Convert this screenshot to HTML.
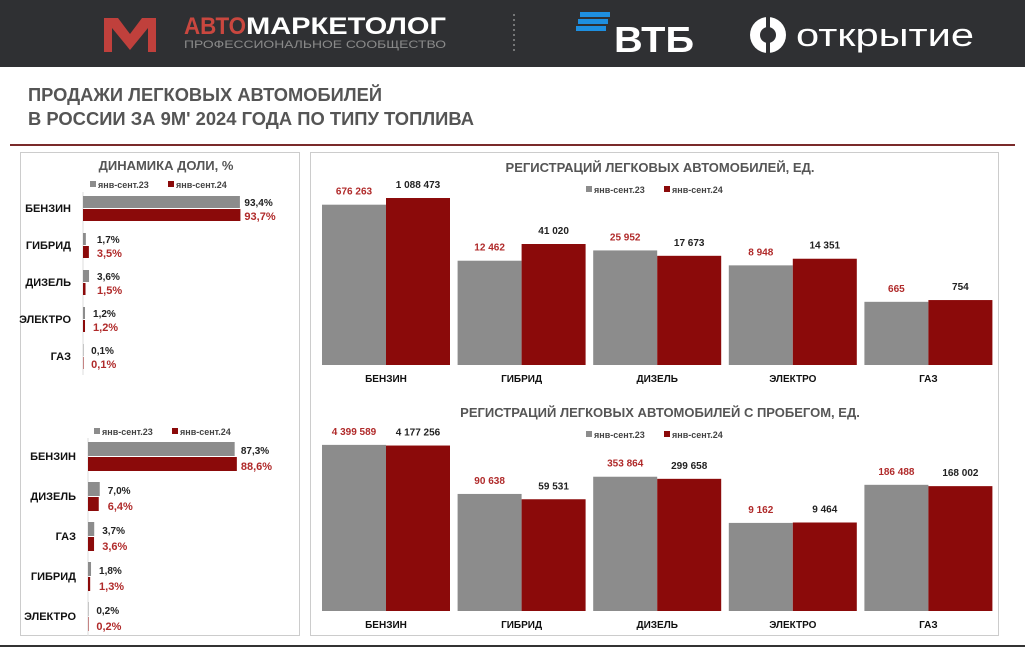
<!DOCTYPE html>
<html><head><meta charset="utf-8"><style>
html,body{margin:0;padding:0;background:#fff;}
svg{display:block;font-family:"Liberation Sans","DejaVu Sans",sans-serif;}
</style></head><body>
<svg id="s" width="1025" height="654" viewBox="0 0 1025 654" xmlns="http://www.w3.org/2000/svg">
<rect x="0" y="0" width="1025" height="67" fill="#2f3033"/>
<g>
<path d="M104 18 L118 18 L130 34 L142 18 L156 18 L156 52 L148 52 L148 28 L130 50 L112 28 L112 52 L104 52 Z" fill="#c0403c"/>
<text x="184" y="34" font-size="24" font-weight="bold" fill="#c9473f" textLength="62" lengthAdjust="spacingAndGlyphs">АВТО</text>
<text x="246" y="34" font-size="24" font-weight="bold" fill="#fff" textLength="200" lengthAdjust="spacingAndGlyphs">МАРКЕТОЛОГ</text>
<text x="184" y="48" font-size="11" fill="#8a8a8a" textLength="262" lengthAdjust="spacingAndGlyphs">ПРОФЕССИОНАЛЬНОЕ СООБЩЕСТВО</text>
</g>
<line x1="514" y1="14" x2="514" y2="52" stroke="#bbb" stroke-dasharray="2,3"/>
<g>
<rect x="580" y="12" width="30" height="5" fill="#1e8fe0"/><rect x="578" y="19" width="30" height="5" fill="#1e8fe0"/><rect x="576" y="26" width="30" height="5" fill="#1e8fe0"/>
<text x="614" y="52" font-size="36" font-weight="bold" fill="#fff" textLength="80" lengthAdjust="spacingAndGlyphs">ВТБ</text>
</g>
<g>
<circle cx="768" cy="35" r="18" fill="#fff"/><circle cx="768" cy="35" r="8" fill="#2f3033"/><rect x="766" y="17" width="4" height="36" fill="#2f3033"/>
<text x="796" y="46" font-size="32" fill="#fff" textLength="178" lengthAdjust="spacingAndGlyphs">открытие</text>
</g>
<text x="28" y="101" font-size="18" font-weight="bold" fill="#555" textLength="354" lengthAdjust="spacingAndGlyphs">ПРОДАЖИ ЛЕГКОВЫХ АВТОМОБИЛЕЙ</text>
<text x="28" y="125" font-size="18" font-weight="bold" fill="#555" textLength="446" lengthAdjust="spacingAndGlyphs">В РОССИИ ЗА 9М' 2024 ГОДА ПО ТИПУ ТОПЛИВА</text>
<line x1="10" y1="145" x2="1015" y2="145" stroke="#7a2a2a" stroke-width="2"/>
<rect x="20.5" y="152.5" width="279" height="483" fill="#fff" stroke="#ccc"/>
<rect x="310.5" y="152.5" width="688" height="483" fill="#fff" stroke="#ccc"/>
<line x1="0" y1="646" x2="1025" y2="646" stroke="#333" stroke-width="2"/>
<g id="g"></g>
</svg>
<script>
const NS="http://www.w3.org/2000/svg";
const G=document.getElementById('g');
const GRAY="#8c8c8c", RED="#8b0a0a", REDT="#b02a2a";
function el(tag,a,txt){const e=document.createElementNS(NS,tag);for(const k in a)e.setAttribute(k,a[k]);if(txt!==undefined)e.textContent=txt;G.appendChild(e);return e;}

// Share chart 1
const shareCats1=["БЕНЗИН","ГИБРИД","ДИЗЕЛЬ","ЭЛЕКТРО","ГАЗ"];
const share23a=[93.4,1.7,3.6,1.2,0.1];
const share24a=[93.7,3.5,1.5,1.2,0.1];
// Share chart 2
const shareCats2=["БЕНЗИН","ДИЗЕЛЬ","ГАЗ","ГИБРИД","ЭЛЕКТРО"];
const share23b=[87.3,7.0,3.7,1.8,0.2];
const share24b=[88.6,6.4,3.6,1.3,0.2];
// Registrations new
const regCats=["БЕНЗИН","ГИБРИД","ДИЗЕЛЬ","ЭЛЕКТРО","ГАЗ"];
const regNew23=[676263,12462,25952,8948,665];
const regNew24=[1088473,41020,17673,14351,754];
// Registrations used
const regUsed23=[4399589,90638,353864,9162,186488];
const regUsed24=[4177256,59531,299658,9464,168002];

function fmtPct(v){return v.toFixed(1).replace('.',',')+'%';}
function fmtNum(v){return String(v).replace(/\B(?=(\d{3})+(?!\d))/g,' ');}

function legend(cx,y,name){
  let t;
  t=el('rect',{x:cx-72,y:y-7,width:6,height:6,fill:GRAY});
  
  t=el('text',{x:cx-64,y:y,'font-size':9,'font-weight':'bold',fill:'#444'},'янв-сент.23');
  
  t=el('rect',{x:cx+6,y:y-7,width:6,height:6,fill:RED});
  
  t=el('text',{x:cx+14,y:y,'font-size':9,'font-weight':'bold',fill:'#444'},'янв-сент.24');
  
}

function shareChart(cats,a,b,x0,y0,step,bh,name){
  const sx=v=>v*1.68;
  let t=el('line',{x1:x0,y1:y0-4,x2:x0,y2:y0+step*cats.length-6,stroke:'#ddd'});
  
  cats.forEach((c,i)=>{
    const y=y0+i*step;
    t=el('text',{x:x0-12,y:y+bh+4,'font-size':11,'font-weight':'bold',fill:'#111','text-anchor':'end'},c);
    
    t=el('rect',{x:x0,y:y,width:Math.max(sx(a[i]),0.5),height:bh,fill:GRAY});
    
    t=el('rect',{x:x0,y:y+bh+1,width:Math.max(sx(b[i]),0.5),height:bh,fill:RED});
    
    const lx=x0+Math.max(sx(a[i]),sx(b[i]))+(sx(a[i])>20?4:8);
    t=el('text',{x:lx,y:y+bh-2,'font-size':10,'font-weight':'bold',fill:'#222'},fmtPct(a[i]));
    
    t=el('text',{x:lx,y:y+2*bh,'font-size':11,'font-weight':'bold',fill:REDT},fmtPct(b[i]));
    
  });
}

let tt=el('text',{x:166,y:170,'font-size':13,'font-weight':'bold',fill:'#555','text-anchor':'middle'},'ДИНАМИКА ДОЛИ, %');

legend(162,188,'share-new');
shareChart(shareCats1,share23a,share24a,83,196,37,12,'share-new');
legend(166,435,'share-used');
shareChart(shareCats2,share23b,share24b,88,442,40,14,'share-used');

function regChart(cats,a,b,base,k,c0,title,ty,name){
  const hy=v=>k*Math.log10(v)-c0;
  const x0=322,gw=135.6,bw=64;
  let t=el('text',{x:660,y:ty,'font-size':13,'font-weight':'bold',fill:'#555','text-anchor':'middle'},title);
  
  legend(658,ty+21,name);
  cats.forEach((c,i)=>{
    const gx=x0+i*gw;
    const h1=hy(a[i]),h2=hy(b[i]);
    t=el('rect',{x:gx,y:base-h1,width:bw,height:h1,fill:GRAY});
    
    t=el('rect',{x:gx+bw,y:base-h2,width:bw,height:h2,fill:RED});
    
    t=el('text',{x:gx+bw/2,y:base-h1-10,'font-size':10,'font-weight':'bold',fill:REDT,'text-anchor':'middle'},fmtNum(a[i]));
    
    t=el('text',{x:gx+bw*1.5,y:base-h2-10,'font-size':10,'font-weight':'bold',fill:'#222','text-anchor':'middle'},fmtNum(b[i]));
    
    t=el('text',{x:gx+bw,y:base+17,'font-size':10,'font-weight':'bold',fill:'#111','text-anchor':'middle'},c);
    
  });
}
regChart(regCats,regNew23,regNew24,365,32.3,28,'РЕГИСТРАЦИЙ ЛЕГКОВЫХ АВТОМОБИЛЕЙ, ЕД.',172,'reg-new');
regChart(regCats,regUsed23,regUsed24,611,29.1,27.2,'РЕГИСТРАЦИЙ ЛЕГКОВЫХ АВТОМОБИЛЕЙ С ПРОБЕГОМ, ЕД.',417,'reg-used');
</script>
</body></html>
